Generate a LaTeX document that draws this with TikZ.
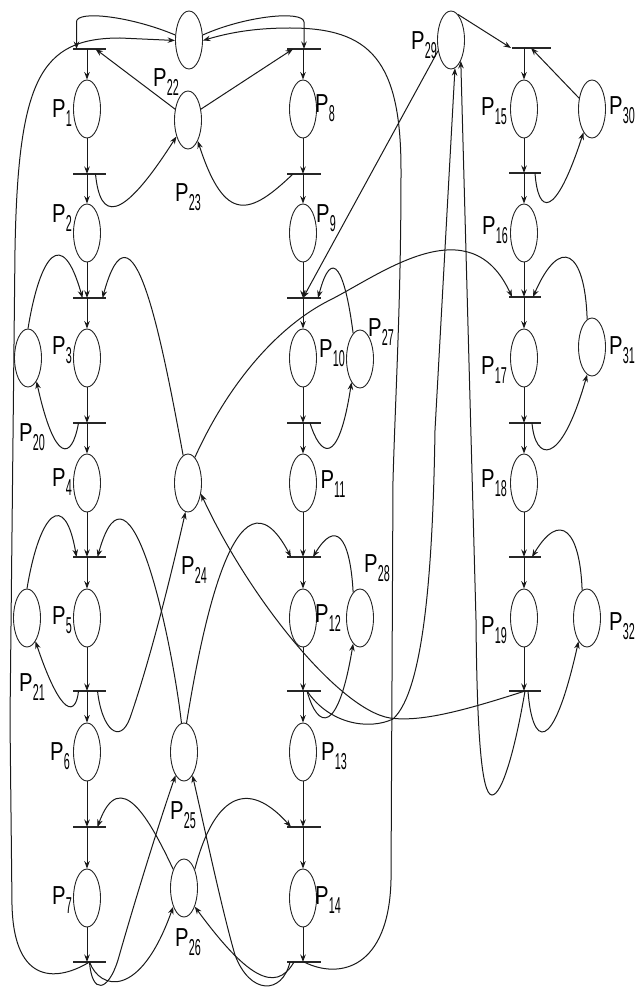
\documentclass[tikz,border=0pt]{standalone}
\usepackage{fontspec}
\setmainfont{Liberation Sans}
\usepackage{graphicx}
\usetikzlibrary{shapes.geometric,arrows.meta}
\newcommand{\plab}[1]{\scalebox{0.78}[1]{\fontsize{26}{26}\selectfont P}\raisebox{-9pt}{\scalebox{0.47}[1]{\fontsize{23}{23}\selectfont #1}}}
\begin{document}
\begin{tikzpicture}[x=1pt,y=-1pt,
  pl/.style={draw=black!85,ellipse,minimum width=27pt,minimum height=58pt,inner sep=0pt,line width=0.9pt},
  tbar/.style={fill=black!85,rectangle,minimum width=33pt,minimum height=2.4pt,inner sep=0pt},
  arr/.style={draw=black!90,line width=1pt,-{Stealth[length=7.5pt,width=5.5pt]}},
  plbl/.style={inner sep=0pt}]
\fill[white] (0,0) rectangle (636,995);
\useasboundingbox (0,0) rectangle (636,995);
% places
\foreach \n/\x/\y in {1/87/109,2/87/233,3/87/358,4/87/483,5/87/618,6/87/752,7/87/898,
  8/303/109,9/303/233,10/303/358,11/303/483,12/303/618,13/303/752,14/303/898,
  15/524/109,16/524/233,17/524/358,18/524/483,19/524/618,
  20/28/358,21/27/618,22/189/40,23/188/120,24/188/483,25/184/752,26/184/888,
  27/360/359,28/360/618,29/451/40,30/592/109,31/592/347,32/587/618}
  {\node[pl] (p\n) at (\x,\y) {};}
% transitions
\foreach \i/\y in {0/49,1/174,2/298,3/423,4/557,5/691,6/827,7/962}
  {\node[tbar] (ta\i) at (89.5,\y) {};
   \node[tbar,minimum width=34pt] (tb\i) at (304,\y) {};}
\node[tbar,minimum width=39pt] (td0) at (531,48) {};
\foreach \i/\y in {1/173,2/297,3/423,4/557,5/691}
  {\node[tbar,minimum width=32pt] (td\i) at (525,\y) {};}
% column arcs
\foreach \p/\a/\b in {1/ta0/ta1,2/ta1/ta2,3/ta2/ta3,4/ta3/ta4,5/ta4/ta5,6/ta5/ta6,7/ta6/ta7,
  8/tb0/tb1,9/tb1/tb2,10/tb2/tb3,11/tb3/tb4,12/tb4/tb5,13/tb5/tb6,14/tb6/tb7,
  15/td0/td1,16/td1/td2,17/td2/td3,18/td3/td4,19/td4/td5}
  {\draw[arr] (p\p.north |- \a.center) -- (p\p.north);
   \draw[arr] (p\p.south) -- (p\p.south |- \b.center);}
% P22
\draw[arr] (p22.160) .. controls (130,16) and (76,10) .. ([xshift=-13pt,yshift=27pt]ta0.center) -- ([xshift=-13pt]ta0.center);
\draw[arr] (p22.20) .. controls (245,16) and (303,10) .. ([yshift=27pt]tb0.center) -- (tb0.center);
\draw[arr] (ta7.center) .. controls (60,980) and (14,988) .. (12,905) -- (10,720) -- (15,250) .. controls (18,80) and (40,38) .. (120,38) -- (p22.182);
\draw[arr] (tb7.center) .. controls (340,980) and (389,968) .. (391,880) -- (393,480) .. controls (396,380) and (401,300) .. (401,170) .. controls (401,60) and (370,28) .. (290,28) .. controls (250,28) and (225,34) .. (p22.358);
% P23
\draw[arr] (p23.140) -- ([xshift=6pt]ta0.center);
\draw[arr] (p23.40) -- ([xshift=-11pt]tb0.center);
\draw[arr] ([xshift=6pt]ta1.center) .. controls (100,220) and (120,225) .. (p23.235);
\draw[arr] ([xshift=-11pt]tb1.center) .. controls (250,215) and (225,225) .. (p23.295);
% P20, P21
\draw[arr] (p20.north) .. controls (40,255) and (62,225) .. ([xshift=-7pt]ta2.center);
\draw[arr] ([xshift=-11pt]ta3.center) .. controls (72,460) and (55,465) .. (p20.290);
\draw[arr] (p21.north) .. controls (40,510) and (65,490) .. ([xshift=-13pt]ta4.center);
\draw[arr] ([xshift=-11pt]ta5.center) .. controls (76,715) and (62,720) .. (p21.290);
% P24
\draw[arr] (p24.100) .. controls (160,330) and (132,190) .. ([xshift=13pt]ta2.center);
\draw[arr] (p24.75) .. controls (230,380) and (280,325) .. (330,300) .. controls (380,275) and (470,205) .. ([xshift=-13pt]td2.center);
\draw[arr] ([xshift=8pt]ta5.center) .. controls (102,730) and (120,745) .. (130,718) .. controls (150,660) and (170,580) .. (p24.265);
\draw[arr] (td5.center) .. controls (460,712) and (420,722) .. (390,718) .. controls (340,710) and (250,600) .. (p24.320);
% P25
\draw[arr] (p25.95) .. controls (172,640) and (130,440) .. ([xshift=8pt]ta4.center);
\draw[arr] (p25.85) .. controls (200,640) and (235,450) .. ([xshift=-13pt]tb4.center);
\draw[arr] (ta7.center) .. controls (92,995) and (108,992) .. (118,960) .. controls (135,900) and (160,820) .. (p25.250);
\draw[arr] ([xshift=-14pt]tb7.center) .. controls (282,995) and (250,995) .. (235,955) .. controls (222,910) and (205,830) .. (p25.290);
% P26
\draw[arr] (p26.120) .. controls (150,820) and (120,765) .. ([xshift=8pt]ta6.center);
\draw[arr] (p26.60) .. controls (210,810) and (240,770) .. ([xshift=-13pt]tb6.center);
\draw[arr] (ta7.center) .. controls (100,990) and (140,1000) .. (p26.240);
\draw[arr] ([xshift=-10pt]tb7.center) .. controls (275,995) and (245,975) .. (p26.300);
% P27, P28
\draw[arr] (p27.105) .. controls (345,270) and (332,245) .. ([xshift=14pt]tb2.center);
\draw[arr] ([xshift=6pt]tb3.center) .. controls (320,455) and (338,470) .. (p27.250);
\draw[arr] (p28.105) .. controls (350,535) and (335,520) .. ([xshift=9pt]tb4.center);
\draw[arr] ([xshift=3pt]tb5.center) .. controls (318,730) and (338,735) .. (p28.255);
% P29
\draw[arr] (p29.220) -- ([xshift=-1pt]tb2.center);
\draw[arr] (p29.75) -- ([xshift=-20pt]td0.center);
\draw[arr] ([xshift=3pt]tb5.center) .. controls (330,725) and (370,730) .. (393,719) .. controls (425,690) and (433,560) .. (435,430) -- (p29.278);
\draw[arr] (td5.center) .. controls (515,750) and (502,795) .. (492,795) .. controls (482,795) and (477,740) .. (476,620) -- (p29.295);
% P30, P31, P32
\draw[arr] (p30.140) -- (td0.center);
\draw[arr] ([xshift=10pt]td1.center) .. controls (538,215) and (555,220) .. (p30.250);
\draw[arr] (p31.100) .. controls (585,250) and (560,235) .. ([xshift=8pt]td2.center);
\draw[arr] ([xshift=7pt]td3.center) .. controls (535,460) and (560,470) .. (p31.260);
\draw[arr] (p32.100) .. controls (580,530) and (560,510) .. ([xshift=7pt]td4.center);
\draw[arr] ([xshift=3pt]td5.center) .. controls (532,745) and (552,760) .. (p32.250);
% labels
\foreach \n/\x/\y in {1/62/113,2/62/218,3/62/350,4/62/482,5/62/620,6/60/756,7/62/900,
  8/325/108,9/326/218,10/332/353,11/333/484,12/328/618,13/334/756,14/328/900,
  15/494/111,16/495/230,17/494/370,18/494/483,19/494/630,
  20/32/437,21/32/687,22/166/82,23/188/197,24/194/570,25/183/815,26/188/942,
  27/381/332,28/377/568,29/424/45,30/622/110,31/622/350,32/622/626}
  {\node[plbl] (l\n) at (\x,\y) {\plab{\n}};}
\end{tikzpicture}
\end{document}
